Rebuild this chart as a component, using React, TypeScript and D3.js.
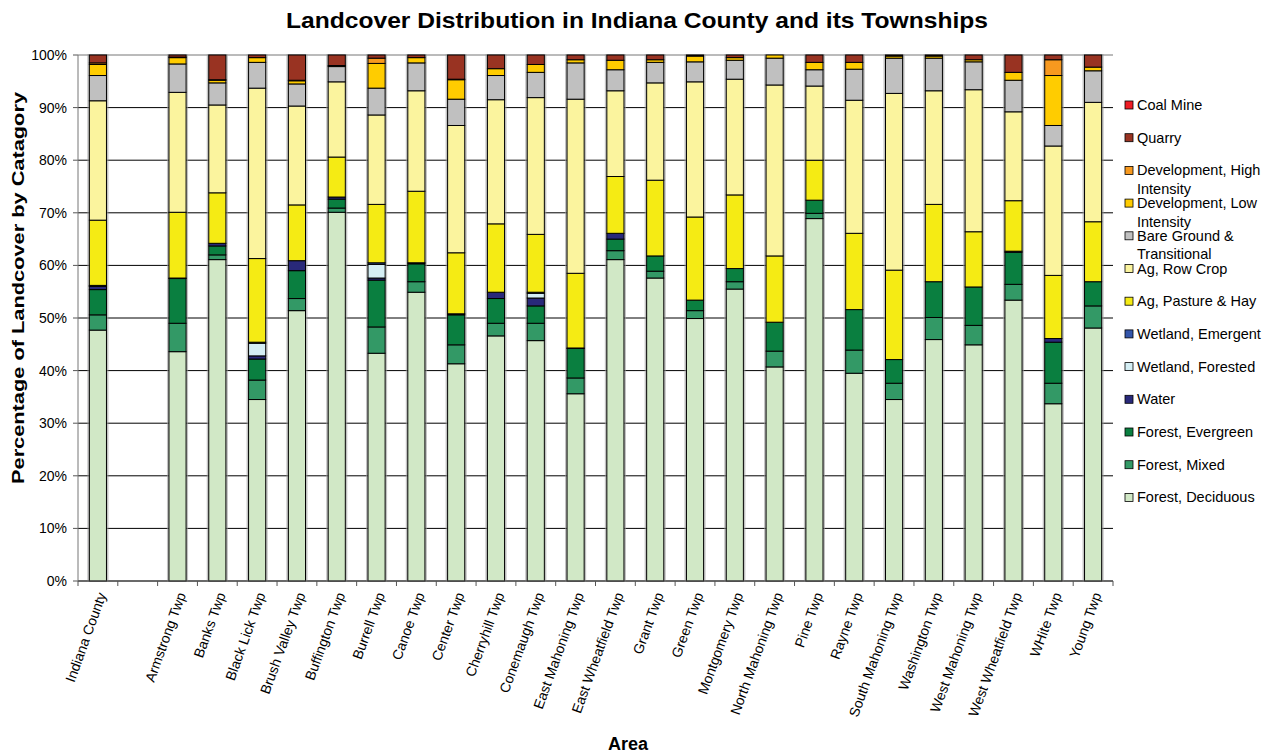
import * as d3 from 'd3';
import { useMemo } from 'react';

const WIDTH = 1278;
const HEIGHT = 753;
const MARGIN = { top: 55, right: 165, bottom: 172, left: 78 };

const areas = [
  'Indiana County', 'Armstrong Twp', 'Banks Twp', 'Black Lick Twp', 'Brush Valley Twp',
  'Buffington  Twp', 'Burrell Twp', 'Canoe Twp', 'Center Twp', 'Cherryhill Twp',
  'Conemaugh Twp', 'East Mahoning Twp', 'East Wheatfield Twp', 'Grant Twp', 'Green Twp',
  'Montgomery Twp', 'North Mahoning Twp', 'Pine Twp', 'Rayne Twp', 'South Mahoning Twp',
  'Washington Twp', 'West Mahoning Twp', 'West Wheatfield Twp', 'WHite Twp', 'Young Twp',
];

// slot order on the x axis: an empty slot sits after the county total
const slots = [areas[0], '', ...areas.slice(1)];

const deciduous = [47.7, 43.6, 61.1, 34.5, 51.4, 70.1, 43.3, 54.9, 41.3, 46.6, 45.7, 35.6, 61.1, 57.6, 49.9, 55.5, 40.7, 68.9, 39.5, 34.5, 45.9, 44.9, 53.4, 33.7, 48.1];
const mixed = [2.9, 5.4, 0.9, 3.7, 2.3, 0.8, 5.0, 2.0, 3.6, 2.4, 3.3, 3.0, 1.7, 1.3, 1.5, 1.4, 3.0, 1.0, 4.4, 3.1, 4.2, 3.7, 3.0, 3.9, 4.2];
const evergreen = [4.8, 8.5, 1.7, 4.0, 5.3, 1.7, 8.9, 3.4, 5.7, 4.7, 3.3, 5.6, 2.2, 2.9, 2.0, 2.5, 5.5, 2.5, 7.7, 4.5, 6.8, 7.3, 6.1, 7.8, 4.6];
const water = [0.6, 0.1, 0.5, 0.6, 1.9, 0.4, 0.4, 0.2, 0.2, 1.2, 1.5, 0.1, 1.1, 0, 0, 0, 0, 0, 0, 0, 0, 0, 0.2, 0.7, 0];
const wetForested = [0.1, 0, 0, 2.4, 0, 0, 2.6, 0, 0, 0, 0.9, 0, 0, 0, 0, 0, 0, 0, 0, 0, 0, 0, 0, 0, 0];
const wetEmergent = [0.1, 0, 0, 0.2, 0, 0, 0.3, 0, 0, 0, 0.2, 0, 0, 0, 0, 0, 0, 0, 0, 0, 0, 0, 0, 0, 0];
const pasture = [12.4, 12.5, 9.6, 15.9, 10.6, 7.6, 11.1, 13.6, 11.6, 13.0, 11.0, 14.2, 10.8, 14.4, 15.8, 14.0, 12.6, 7.6, 14.5, 17.0, 14.7, 10.5, 9.6, 12.0, 11.4];
const rowCrop = [22.7, 22.8, 16.7, 32.4, 18.8, 14.3, 17.0, 19.1, 24.2, 23.6, 26.0, 33.1, 16.3, 18.5, 25.7, 22.0, 32.5, 14.1, 25.3, 33.6, 21.6, 27.0, 16.9, 24.6, 22.7];
const bare = [4.8, 5.4, 4.2, 4.9, 4.2, 2.9, 5.1, 5.3, 5.0, 4.6, 4.8, 6.9, 4.0, 3.9, 3.8, 3.6, 5.1, 3.1, 5.9, 6.7, 6.2, 5.3, 6.0, 3.9, 6.0];
const devLow = [2.1, 1.2, 0.5, 0.9, 0.6, 0.2, 4.7, 1.0, 3.7, 1.3, 1.5, 0.6, 1.8, 0.5, 1.1, 0.5, 0.6, 1.4, 1.3, 0.4, 0.4, 0.4, 1.5, 9.5, 0.7];
const devHigh = [0.3, 0.1, 0.1, 0, 0.1, 0, 1.0, 0, 0.1, 0, 0, 0, 0, 0, 0, 0, 0, 0, 0, 0, 0, 0, 0, 3.0, 0];
const quarry = [1.5, 0.4, 4.7, 0.5, 4.8, 2.0, 0.6, 0.5, 4.6, 2.6, 1.8, 0.9, 1.0, 0.9, 0.2, 0.5, 0, 1.4, 1.4, 0.2, 0.2, 0.9, 3.3, 0.9, 2.3];
const coalMine = [0, 0, 0, 0, 0, 0, 0, 0, 0, 0, 0, 0, 0, 0, 0, 0, 0, 0, 0, 0, 0, 0, 0, 0, 0];

// bottom to top
const series = [
  { key: 'Forest, Deciduous', color: '#d1e8c6', values: deciduous },
  { key: 'Forest, Mixed', color: '#339966', values: mixed },
  { key: 'Forest, Evergreen', color: '#0a7f40', values: evergreen },
  { key: 'Water', color: '#29297a', values: water },
  { key: 'Wetland, Forested', color: '#d4eef4', values: wetForested },
  { key: 'Wetland, Emergent', color: '#3355aa', values: wetEmergent },
  { key: 'Ag, Pasture & Hay', color: '#f5eb14', values: pasture },
  { key: 'Ag, Row Crop', color: '#fbf49e', values: rowCrop },
  { key: 'Bare Ground & Transitional', color: '#c0c0c0', values: bare },
  { key: 'Development, Low Intensity', color: '#ffcc00', values: devLow },
  { key: 'Development, High Intensity', color: '#f7991f', values: devHigh },
  { key: 'Quarry', color: '#993322', values: quarry },
  { key: 'Coal Mine', color: '#ee1c24', values: coalMine },
];

const legendLines: Record<string, string[]> = {
  'Development, High Intensity': ['Development, High', 'Intensity'],
  'Development, Low Intensity': ['Development, Low', 'Intensity'],
  'Bare Ground & Transitional': ['Bare Ground &', 'Transitional'],
};

const yTicks = [0, 0.1, 0.2, 0.3, 0.4, 0.5, 0.6, 0.7, 0.8, 0.9, 1];
const FONT = "'Liberation Sans', Arial, sans-serif";

export default function App() {
  const boundsWidth = WIDTH - MARGIN.left - MARGIN.right;
  const boundsHeight = HEIGHT - MARGIN.top - MARGIN.bottom;

  const xScale = useMemo(
    () => d3.scaleBand().domain(slots).range([0, boundsWidth]).paddingInner(0.57).paddingOuter(0.285),
    [boundsWidth]
  );
  const yScale = useMemo(() => d3.scaleLinear().domain([0, 1]).range([boundsHeight, 0]), [boundsHeight]);

  const stacked = useMemo(() => {
    const rows = areas.map((a, i) => {
      const r: Record<string, any> = { area: a };
      series.forEach((s) => (r[s.key] = s.values[i]));
      return r;
    });
    return d3.stack<any>().keys(series.map((s) => s.key)).offset(d3.stackOffsetExpand)(rows);
  }, []);

  const step = xScale.step();
  const bw = xScale.bandwidth();

  return (
    <div style={{ position: 'absolute', left: 0, top: 0 }}>
      <svg width={WIDTH} height={HEIGHT} style={{ fontFamily: FONT, display: 'block' }}>
        <rect width={WIDTH} height={HEIGHT} fill="#fff" />
        <text x={637} y={28} textAnchor="middle" fontSize={22} fontWeight="bold" textLength={702} lengthAdjust="spacingAndGlyphs">
          Landcover Distribution in Indiana County and its Townships
        </text>
        <g transform={`translate(${MARGIN.left},${MARGIN.top})`}>
          {yTicks.map((t) => (
            <g key={t}>
              <line x1={0} x2={boundsWidth} y1={yScale(t)} y2={yScale(t)} stroke={t === 1 ? '#777' : '#000'} strokeWidth={1} />
              <line x1={-5} x2={0} y1={yScale(t)} y2={yScale(t)} stroke="#555" />
              <text x={-11} y={yScale(t)} dy="0.35em" textAnchor="end" fontSize={14}>
                {`${Math.round(t * 100)}%`}
              </text>
            </g>
          ))}
          <line x1={0} x2={0} y1={0} y2={boundsHeight} stroke="#777" />

          {areas.map((a, i) => {
            const x = xScale(a) ?? 0;
            return (
              <g key={a}>
                <rect x={x - 1} y={yScale(1)} width={bw + 2} height={boundsHeight} fill="none" stroke="#999" strokeWidth={2} opacity={0.6} />
                {stacked.map((layer, si) => {
                  const d = layer[i];
                  const h = yScale(d[0]) - yScale(d[1]);
                  if (h <= 0) return null;
                  return (
                    <rect key={si} x={x} y={yScale(d[1])} width={bw} height={h} fill={series[si].color} stroke="#000" strokeWidth={1} />
                  );
                })}
              </g>
            );
          })}

          <line x1={0} x2={boundsWidth} y1={boundsHeight} y2={boundsHeight} stroke="#555" />
          {d3.range(slots.length + 1).map((i) => (
            <line key={i} x1={i * step} x2={i * step} y1={boundsHeight} y2={boundsHeight + 5} stroke="#555" />
          ))}
          {slots.map((s) =>
            s ? (
              <text
                key={s}
                transform={`translate(${(xScale(s) ?? 0) + bw / 2 + 4},${boundsHeight + 12}) rotate(-70)`}
                textAnchor="end"
                dy="0.35em"
                fontSize={14}
              >
                {s}
              </text>
            ) : null
          )}
        </g>

        <text
          transform="translate(24,288) rotate(-90)"
          textAnchor="middle"
          fontSize={16.5}
          fontWeight="bold"
          textLength={392}
          lengthAdjust="spacingAndGlyphs"
        >
          Percentage of Landcover by Catagory
        </text>
        <text x={628} y={750} textAnchor="middle" fontSize={18} fontWeight="bold">
          Area
        </text>

        <g transform="translate(1125,105)">
          {series
            .slice()
            .reverse()
            .map((s, i) => {
              const lines = legendLines[s.key] ?? [s.key];
              const y = i * 32.7;
              return (
                <g key={s.key} transform={`translate(0,${y})`}>
                  <rect x={0} y={-4} width={8} height={8} fill={s.color} stroke="#000" strokeWidth={0.8} />
                  {lines.map((l, li) => (
                    <text key={li} x={12} y={li * 18.5} dy="0.35em" fontSize={14.5}>
                      {l}
                    </text>
                  ))}
                </g>
              );
            })}
        </g>
      </svg>
    </div>
  );
}
